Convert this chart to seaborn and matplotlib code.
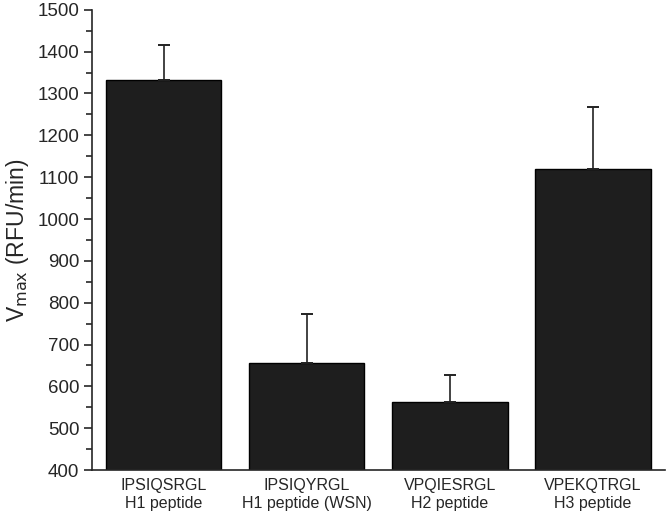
import numpy as np
import pandas as pd
import matplotlib
matplotlib.use("Agg")
from matplotlib import pyplot as plt
from matplotlib.ticker import MultipleLocator
import seaborn as sb

sb.set_theme(style='ticks')
plt.rcParams['font.family'] = ['Liberation Sans', 'DejaVu Sans']

# data
peptides = ["IPSIQSRGL\nH1 peptide", "IPSIQYRGL\nH1 peptide (WSN)",
            "VPQIESRGL\nH2 peptide", "VPEKQTRGL\nH3 peptide"]
vmax = [1332, 655, 562, 1120]
err_up = [85, 117, 65, 148]

df = pd.DataFrame({"peptide": peptides, "vmax": vmax})

fig = plt.figure(figsize=(6.66, 5.16), dpi=100)
ax = fig.add_axes([0.138, 0.089, 0.860, 0.892])

sb.barplot(data=df, x="peptide", y="vmax", color="#1e1e1e", saturation=1,
           edgecolor="black", linewidth=1, width=0.805, ax=ax)

# one-sided error bars
ax.errorbar(np.arange(len(vmax)), vmax, yerr=[np.zeros(len(vmax)), err_up],
            fmt="none", ecolor="#222222", elinewidth=1.2, capsize=4.2,
            capthick=1.4)

ax.set_ylim(400, 1500)
ax.set_xlim(-0.5, 3.5)
ax.yaxis.set_major_locator(MultipleLocator(100))
ax.yaxis.set_minor_locator(MultipleLocator(50))
ax.tick_params(axis='y', which='major', length=6, width=1.2, labelsize=13.5, pad=3)
ax.tick_params(axis='y', which='minor', length=4, width=1.2)
ax.tick_params(axis='x', length=0, labelsize=11.5, pad=6)
ax.set_xlabel("")
ax.set_ylabel(r"V$_{\mathrm{max}}$ (RFU/min)", fontsize=16.5, labelpad=5)

sb.despine(ax=ax)
ax.spines['left'].set_linewidth(1.2)
ax.spines['bottom'].set_linewidth(1.2)

plt.savefig('out.png', dpi=100)
